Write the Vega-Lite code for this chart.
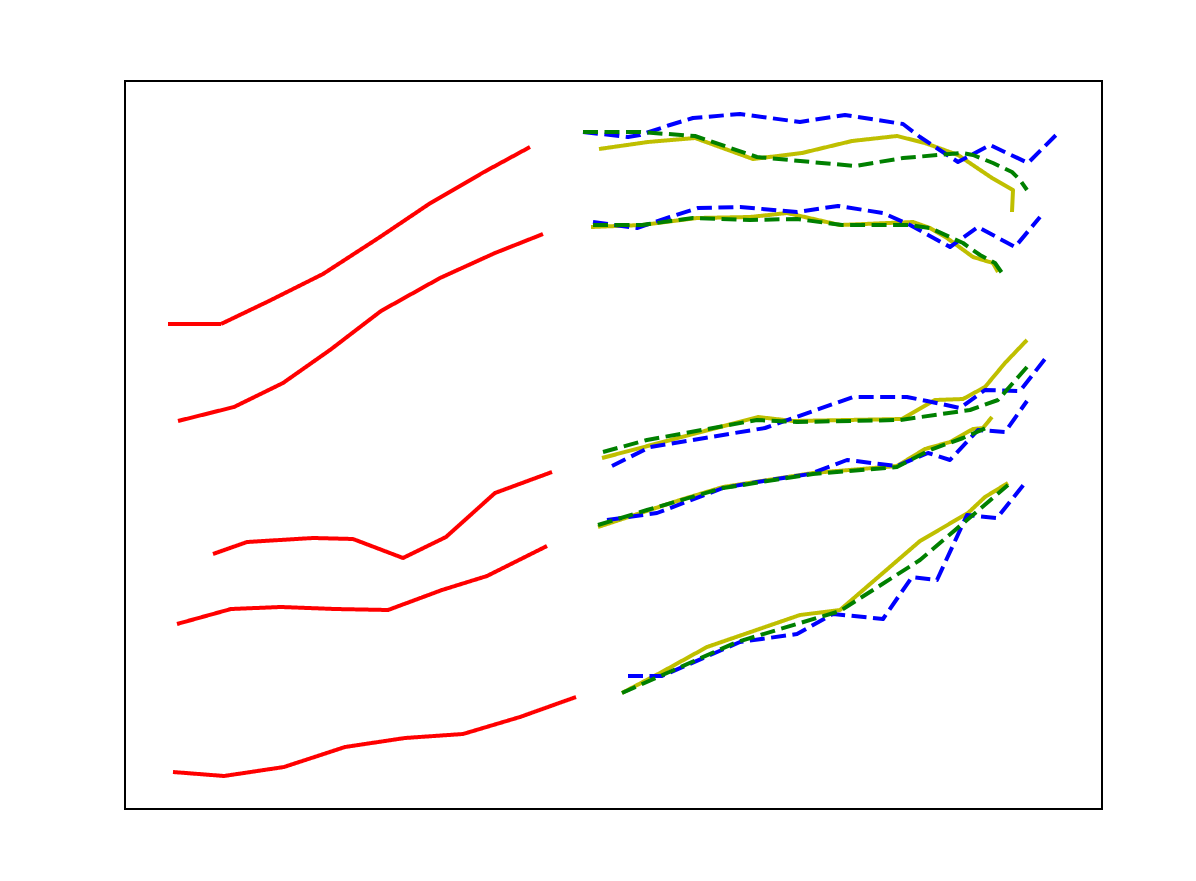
{
  "$schema": "https://vega.github.io/schema/vega-lite/v6.json",
  "width": 977,
  "height": 728,
  "autosize": {"type": "none"},
  "padding": {"left": 125, "top": 81, "right": 94, "bottom": 72},
  "background": "white",
  "config": {"view": {"stroke": "black", "strokeWidth": 2}},
  "data": {"values": [
    {"s":"r1","c":"r","i":0,"x":43,"y":485},{"s":"r1","c":"r","i":1,"x":96,"y":485},{"s":"r1","c":"r","i":2,"x":144,"y":508},{"s":"r1","c":"r","i":3,"x":198,"y":535},{"s":"r1","c":"r","i":4,"x":255,"y":572},{"s":"r1","c":"r","i":5,"x":304,"y":605},{"s":"r1","c":"r","i":6,"x":359,"y":637},{"s":"r1","c":"r","i":7,"x":405,"y":662},
    {"s":"r2","c":"r","i":0,"x":53,"y":388},{"s":"r2","c":"r","i":1,"x":109,"y":402},{"s":"r2","c":"r","i":2,"x":158,"y":426},{"s":"r2","c":"r","i":3,"x":205,"y":459},{"s":"r2","c":"r","i":4,"x":256,"y":498},{"s":"r2","c":"r","i":5,"x":315,"y":531},{"s":"r2","c":"r","i":6,"x":370,"y":556},{"s":"r2","c":"r","i":7,"x":418,"y":575},
    {"s":"r3","c":"r","i":0,"x":88,"y":255},{"s":"r3","c":"r","i":1,"x":122,"y":267},{"s":"r3","c":"r","i":2,"x":188,"y":271},{"s":"r3","c":"r","i":3,"x":228,"y":270},{"s":"r3","c":"r","i":4,"x":278,"y":251},{"s":"r3","c":"r","i":5,"x":321,"y":272},{"s":"r3","c":"r","i":6,"x":370,"y":316},{"s":"r3","c":"r","i":7,"x":427,"y":337},
    {"s":"r4","c":"r","i":0,"x":52,"y":185},{"s":"r4","c":"r","i":1,"x":106,"y":200},{"s":"r4","c":"r","i":2,"x":156,"y":202},{"s":"r4","c":"r","i":3,"x":210,"y":200},{"s":"r4","c":"r","i":4,"x":263,"y":199},{"s":"r4","c":"r","i":5,"x":317,"y":219},{"s":"r4","c":"r","i":6,"x":362,"y":233},{"s":"r4","c":"r","i":7,"x":422,"y":263},
    {"s":"r5","c":"r","i":0,"x":48,"y":37},{"s":"r5","c":"r","i":1,"x":99,"y":33},{"s":"r5","c":"r","i":2,"x":159,"y":42},{"s":"r5","c":"r","i":3,"x":220,"y":62},{"s":"r5","c":"r","i":4,"x":280,"y":71},{"s":"r5","c":"r","i":5,"x":338,"y":75},{"s":"r5","c":"r","i":6,"x":395,"y":92},{"s":"r5","c":"r","i":7,"x":451,"y":112},

    {"s":"y1","c":"y","i":0,"x":474,"y":660},{"s":"y1","c":"y","i":1,"x":523,"y":667},{"s":"y1","c":"y","i":2,"x":570,"y":671},{"s":"y1","c":"y","i":3,"x":628,"y":650},{"s":"y1","c":"y","i":4,"x":677,"y":656},{"s":"y1","c":"y","i":5,"x":727,"y":668},{"s":"y1","c":"y","i":6,"x":772,"y":673},{"s":"y1","c":"y","i":7,"x":800,"y":666},{"s":"y1","c":"y","i":8,"x":833,"y":654},{"s":"y1","c":"y","i":9,"x":867,"y":631},{"s":"y1","c":"y","i":10,"x":888,"y":619},{"s":"y1","c":"y","i":11,"x":887,"y":597},
    {"s":"g1","c":"g","i":0,"x":458,"y":677},{"s":"g1","c":"g","i":1,"x":515,"y":677},{"s":"g1","c":"g","i":2,"x":570,"y":673},{"s":"g1","c":"g","i":3,"x":582,"y":669},{"s":"g1","c":"g","i":4,"x":632,"y":652},{"s":"g1","c":"g","i":5,"x":730,"y":643},{"s":"g1","c":"g","i":6,"x":778,"y":651},{"s":"g1","c":"g","i":7,"x":837,"y":656},{"s":"g1","c":"g","i":8,"x":848,"y":654},{"s":"g1","c":"g","i":9,"x":868,"y":646},{"s":"g1","c":"g","i":10,"x":887,"y":637},{"s":"g1","c":"g","i":11,"x":895,"y":629},{"s":"g1","c":"g","i":12,"x":902,"y":619},
    {"s":"b1","c":"b","i":0,"x":458,"y":677},{"s":"b1","c":"b","i":1,"x":503,"y":672},{"s":"b1","c":"b","i":2,"x":515,"y":674},{"s":"b1","c":"b","i":3,"x":545,"y":684},{"s":"b1","c":"b","i":4,"x":568,"y":691},{"s":"b1","c":"b","i":5,"x":615,"y":695},{"s":"b1","c":"b","i":6,"x":675,"y":687},{"s":"b1","c":"b","i":7,"x":720,"y":694},{"s":"b1","c":"b","i":8,"x":778,"y":685},{"s":"b1","c":"b","i":9,"x":795,"y":672},{"s":"b1","c":"b","i":10,"x":833,"y":647},{"s":"b1","c":"b","i":11,"x":865,"y":664},{"s":"b1","c":"b","i":12,"x":903,"y":646},{"s":"b1","c":"b","i":13,"x":932,"y":675},

    {"s":"y2","c":"y","i":0,"x":466,"y":582},{"s":"y2","c":"y","i":1,"x":517,"y":584},{"s":"y2","c":"y","i":2,"x":572,"y":591},{"s":"y2","c":"y","i":3,"x":625,"y":592},{"s":"y2","c":"y","i":4,"x":662,"y":596},{"s":"y2","c":"y","i":5,"x":715,"y":584},{"s":"y2","c":"y","i":6,"x":788,"y":587},{"s":"y2","c":"y","i":7,"x":805,"y":581},{"s":"y2","c":"y","i":8,"x":822,"y":571},{"s":"y2","c":"y","i":9,"x":848,"y":552},{"s":"y2","c":"y","i":10,"x":868,"y":546},{"s":"y2","c":"y","i":11,"x":873,"y":537},
    {"s":"g2","c":"g","i":0,"x":468,"y":584},{"s":"g2","c":"g","i":1,"x":517,"y":584},{"s":"g2","c":"g","i":2,"x":568,"y":591},{"s":"g2","c":"g","i":3,"x":625,"y":589},{"s":"g2","c":"g","i":4,"x":672,"y":590},{"s":"g2","c":"g","i":5,"x":717,"y":584},{"s":"g2","c":"g","i":6,"x":785,"y":584},{"s":"g2","c":"g","i":7,"x":805,"y":581},{"s":"g2","c":"g","i":8,"x":838,"y":566},{"s":"g2","c":"g","i":9,"x":855,"y":554},{"s":"g2","c":"g","i":10,"x":870,"y":546},{"s":"g2","c":"g","i":11,"x":877,"y":536},
    {"s":"b2","c":"b","i":0,"x":468,"y":587},{"s":"b2","c":"b","i":1,"x":512,"y":581},{"s":"b2","c":"b","i":2,"x":527,"y":586},{"s":"b2","c":"b","i":3,"x":545,"y":592},{"s":"b2","c":"b","i":4,"x":573,"y":601},{"s":"b2","c":"b","i":5,"x":615,"y":602},{"s":"b2","c":"b","i":6,"x":672,"y":597},{"s":"b2","c":"b","i":7,"x":713,"y":603},{"s":"b2","c":"b","i":8,"x":758,"y":596},{"s":"b2","c":"b","i":9,"x":785,"y":584},{"s":"b2","c":"b","i":10,"x":825,"y":562},{"s":"b2","c":"b","i":11,"x":853,"y":582},{"s":"b2","c":"b","i":12,"x":890,"y":562},{"s":"b2","c":"b","i":13,"x":915,"y":592},

    {"s":"y3","c":"y","i":0,"x":477,"y":351},{"s":"y3","c":"y","i":1,"x":633,"y":392},{"s":"y3","c":"y","i":2,"x":668,"y":388},{"s":"y3","c":"y","i":3,"x":777,"y":390},{"s":"y3","c":"y","i":4,"x":810,"y":409},{"s":"y3","c":"y","i":5,"x":838,"y":410},{"s":"y3","c":"y","i":6,"x":860,"y":422},{"s":"y3","c":"y","i":7,"x":880,"y":446},{"s":"y3","c":"y","i":8,"x":902,"y":469},
    {"s":"g3","c":"g","i":0,"x":478,"y":357},{"s":"g3","c":"g","i":1,"x":522,"y":369},{"s":"g3","c":"g","i":2,"x":632,"y":389},{"s":"g3","c":"g","i":3,"x":672,"y":387},{"s":"g3","c":"g","i":4,"x":775,"y":389},{"s":"g3","c":"g","i":5,"x":845,"y":399},{"s":"g3","c":"g","i":6,"x":873,"y":409},{"s":"g3","c":"g","i":7,"x":902,"y":442},
    {"s":"b3","c":"b","i":0,"x":487,"y":343},{"s":"b3","c":"b","i":1,"x":525,"y":362},{"s":"b3","c":"b","i":2,"x":640,"y":381},{"s":"b3","c":"b","i":3,"x":728,"y":412},{"s":"b3","c":"b","i":4,"x":782,"y":412},{"s":"b3","c":"b","i":5,"x":802,"y":408},{"s":"b3","c":"b","i":6,"x":835,"y":401},{"s":"b3","c":"b","i":7,"x":860,"y":419},{"s":"b3","c":"b","i":8,"x":895,"y":418},{"s":"b3","c":"b","i":9,"x":920,"y":450},

    {"s":"y4","c":"y","i":0,"x":473,"y":282},{"s":"y4","c":"y","i":1,"x":555,"y":309},{"s":"y4","c":"y","i":2,"x":598,"y":322},{"s":"y4","c":"y","i":3,"x":688,"y":336},{"s":"y4","c":"y","i":4,"x":772,"y":343},{"s":"y4","c":"y","i":5,"x":800,"y":360},{"s":"y4","c":"y","i":6,"x":825,"y":367},{"s":"y4","c":"y","i":7,"x":848,"y":380},{"s":"y4","c":"y","i":8,"x":858,"y":381},{"s":"y4","c":"y","i":9,"x":867,"y":392},
    {"s":"g4","c":"g","i":0,"x":473,"y":284},{"s":"g4","c":"g","i":1,"x":522,"y":299},{"s":"g4","c":"g","i":2,"x":598,"y":321},{"s":"g4","c":"g","i":3,"x":688,"y":335},{"s":"g4","c":"g","i":4,"x":772,"y":342},{"s":"g4","c":"g","i":5,"x":805,"y":359},{"s":"g4","c":"g","i":6,"x":838,"y":371},{"s":"g4","c":"g","i":7,"x":852,"y":377},{"s":"g4","c":"g","i":8,"x":863,"y":382},
    {"s":"b4","c":"b","i":0,"x":482,"y":289},{"s":"b4","c":"b","i":1,"x":532,"y":296},{"s":"b4","c":"b","i":2,"x":598,"y":321},{"s":"b4","c":"b","i":3,"x":632,"y":327},{"s":"b4","c":"b","i":4,"x":685,"y":335},{"s":"b4","c":"b","i":5,"x":722,"y":349},{"s":"b4","c":"b","i":6,"x":772,"y":343},{"s":"b4","c":"b","i":7,"x":803,"y":356},{"s":"b4","c":"b","i":8,"x":825,"y":349},{"s":"b4","c":"b","i":9,"x":853,"y":379},{"s":"b4","c":"b","i":10,"x":880,"y":377},{"s":"b4","c":"b","i":11,"x":902,"y":408},

    {"s":"y5","c":"y","i":0,"x":497,"y":116},{"s":"y5","c":"y","i":1,"x":535,"y":136},{"s":"y5","c":"y","i":2,"x":582,"y":162},{"s":"y5","c":"y","i":3,"x":675,"y":194},{"s":"y5","c":"y","i":4,"x":715,"y":199},{"s":"y5","c":"y","i":5,"x":795,"y":268},{"s":"y5","c":"y","i":6,"x":843,"y":296},{"s":"y5","c":"y","i":7,"x":860,"y":312},{"s":"y5","c":"y","i":8,"x":883,"y":326},
    {"s":"g5","c":"g","i":0,"x":497,"y":116},{"s":"g5","c":"g","i":1,"x":542,"y":136},{"s":"g5","c":"g","i":2,"x":612,"y":167},{"s":"g5","c":"g","i":3,"x":715,"y":198},{"s":"g5","c":"g","i":4,"x":795,"y":249},{"s":"g5","c":"g","i":5,"x":842,"y":289},{"s":"g5","c":"g","i":6,"x":883,"y":324},
    {"s":"b5","c":"b","i":0,"x":503,"y":133},{"s":"b5","c":"b","i":1,"x":537,"y":133},{"s":"b5","c":"b","i":2,"x":615,"y":167},{"s":"b5","c":"b","i":3,"x":672,"y":175},{"s":"b5","c":"b","i":4,"x":708,"y":195},{"s":"b5","c":"b","i":5,"x":758,"y":190},{"s":"b5","c":"b","i":6,"x":787,"y":232},{"s":"b5","c":"b","i":7,"x":812,"y":229},{"s":"b5","c":"b","i":8,"x":842,"y":294},{"s":"b5","c":"b","i":9,"x":872,"y":291},{"s":"b5","c":"b","i":10,"x":900,"y":326}
  ]},
  "encoding": {
    "x": {"field": "x", "type": "quantitative", "scale": {"domain": [0, 977], "nice": false, "zero": false}, "axis": null},
    "y": {"field": "y", "type": "quantitative", "scale": {"domain": [0, 728], "nice": false, "zero": false}, "axis": null},
    "color": {"field": "c", "type": "nominal", "scale": {"domain": ["r", "y", "g", "b"], "range": ["#ff0000", "#bfbf00", "#008000", "#0000ff"]}, "legend": null},
    "strokeDash": {"field": "c", "type": "nominal", "scale": {"domain": ["r", "y", "g", "b"], "range": [[1, 0], [1, 0], [15, 6.5], [15, 6.5]]}, "legend": null},
    "detail": {"field": "s", "type": "nominal"},
    "order": {"field": "i", "type": "quantitative"}
  },
  "layer": [
    {"transform": [{"filter": "datum.c === 'r'"}], "mark": {"type": "line", "strokeWidth": 4, "strokeCap": "butt", "strokeJoin": "round", "clip": true}},
    {"transform": [{"filter": "datum.c === 'y'"}], "mark": {"type": "line", "strokeWidth": 4, "strokeCap": "butt", "strokeJoin": "round", "clip": true}},
    {"transform": [{"filter": "datum.c === 'b'"}], "mark": {"type": "line", "strokeWidth": 4, "strokeCap": "butt", "strokeJoin": "round", "clip": true}},
    {"transform": [{"filter": "datum.c === 'g'"}], "mark": {"type": "line", "strokeWidth": 4, "strokeCap": "butt", "strokeJoin": "round", "clip": true}}
  ]
}
